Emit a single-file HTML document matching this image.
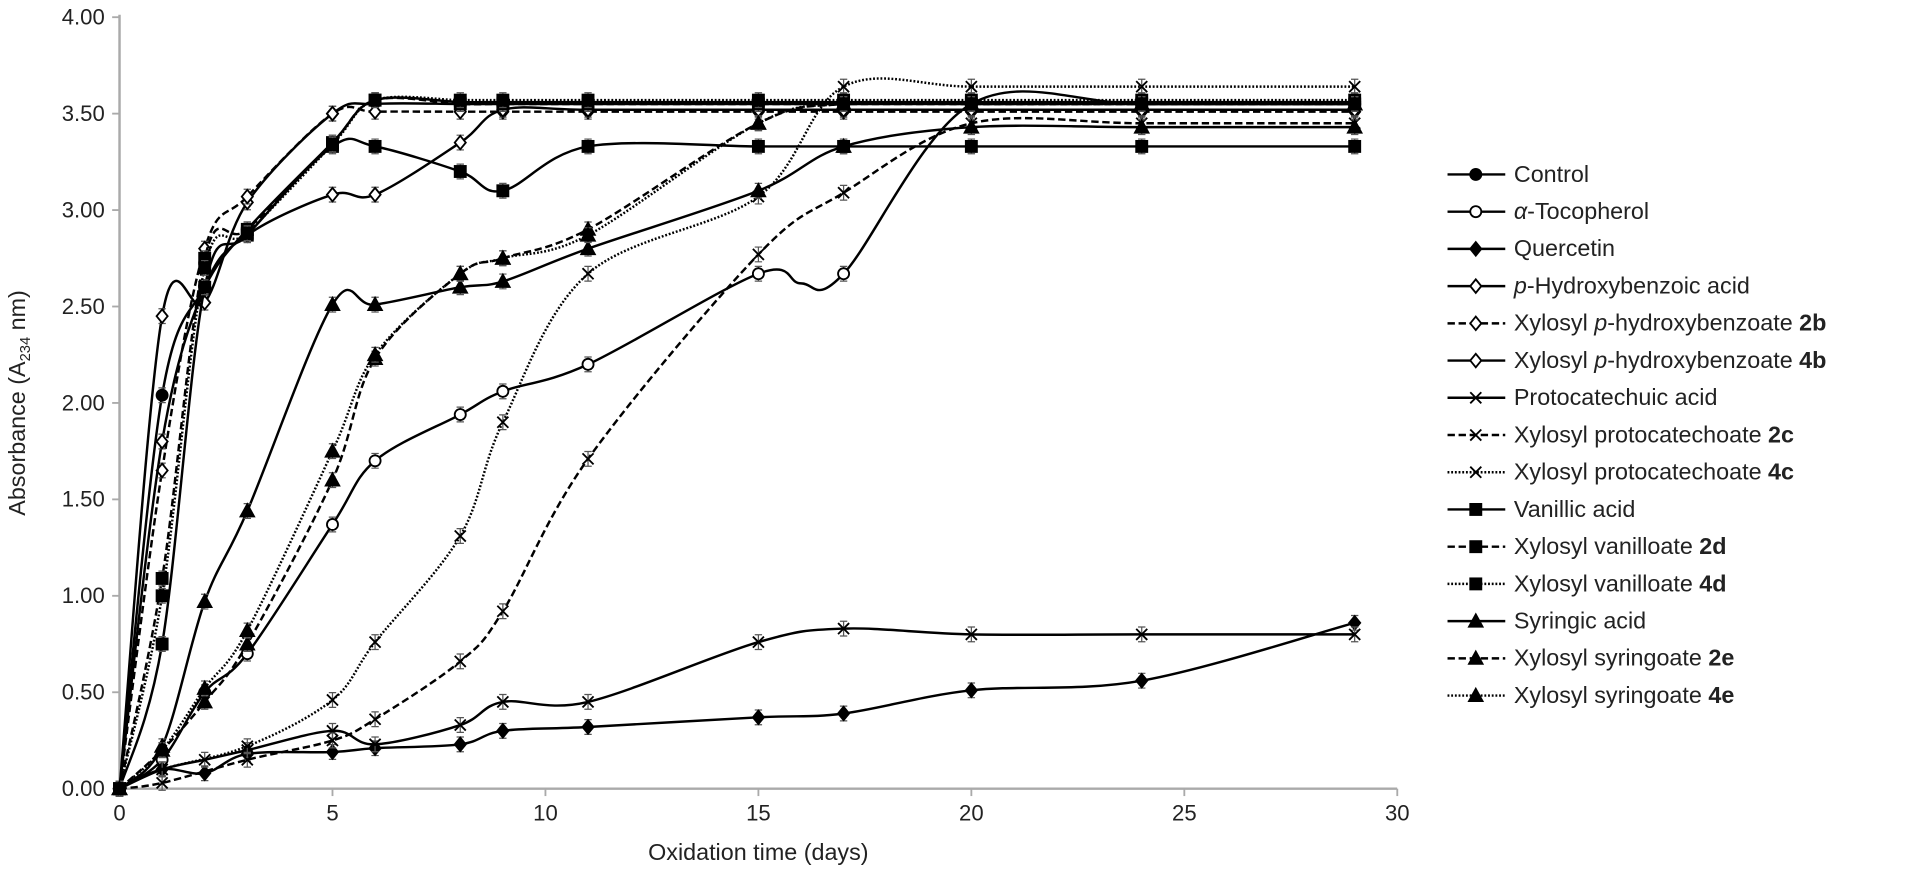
<!DOCTYPE html>
<html><head><meta charset="utf-8"><style>
html,body{margin:0;padding:0;background:#fff;}
svg{display:block;font-family:"Liberation Sans",sans-serif;}
</style></head><body>
<svg id="s" width="1927" height="871" viewBox="0 0 1568 709" xmlns="http://www.w3.org/2000/svg">
<g id="axes" stroke="#aaa" stroke-width="2" fill="none">
<line x1="97" y1="12" x2="97" y2="642"/>
<line x1="97" y1="642" x2="1137" y2="642"/>
</g>
<g id="ticks" stroke="#aaa" stroke-width="1.5"></g>
<g id="lbl" font-size="18" fill="#222"></g>
<text x="617" y="700" font-size="19" text-anchor="middle" fill="#222">Oxidation time (days)</text>
<text transform="translate(20,328) rotate(-90)" font-size="19" text-anchor="middle" fill="#222">Absorbance (A<tspan font-size="12" dy="4">234</tspan><tspan dy="-4"> nm)</tspan></text>
<g id="series"></g>
<g id="legend" font-size="19" fill="#222"></g>
</svg>
<script>
var NS="http://www.w3.org/2000/svg";
function X(d){return 97+d*34.67;}
function Y(v){return 642-v*157;}
function el(t,a,p,txt){var e=document.createElementNS(NS,t);for(var k in a)e.setAttribute(k,a[k]);if(txt!=null)e.textContent=txt;p.appendChild(e);return e;}
var tk=document.getElementById('ticks'),lb=document.getElementById('lbl');
for(var i=0;i<=8;i++){var v=i*0.5;el('line',{x1:91,x2:97,y1:Y(v),y2:Y(v)},tk);el('text',{x:85,y:Y(v)+6,'text-anchor':'end'},lb,v.toFixed(2));}
for(var d=0;d<=30;d+=5){el('line',{x1:X(d),x2:X(d),y1:642,y2:648},tk);el('text',{x:X(d),y:668,'text-anchor':'middle'},lb,String(d));}
var S=[
["Control","s","fc",[[0,0],[1,2.04],[2,2.6],[3,2.9],[5,3.35],[6,3.57],[8,3.56],[9,3.56],[11,3.56],[15,3.56],[17,3.56],[20,3.56],[24,3.56],[29,3.56]]],
["\u03b1-Tocopherol","s","oc",[[0,0],[1,0.15],[2,0.5],[3,0.7],[5,1.37],[6,1.7],[8,1.94],[9,2.06],[11,2.2],[15,2.67],[16,2.62],[17,2.67],[20,3.55],[24,3.55],[29,3.55]]],
["Quercetin","s","fd",[[0,0],[1,0.1],[2,0.08],[3,0.18],[5,0.19],[6,0.21],[8,0.23],[9,0.3],[11,0.32],[15,0.37],[17,0.39],[20,0.51],[24,0.56],[29,0.86]]],
["p-Hydroxybenzoic acid","s","od",[[0,0],[1,2.45],[2,2.52],[3,3.04],[5,3.5],[6,3.55],[8,3.55],[9,3.55],[11,3.55],[15,3.55],[17,3.55],[20,3.55],[24,3.55],[29,3.55]]],
["2b","d","od",[[0,0],[1,1.65],[2,2.8],[3,3.07],[5,3.5],[6,3.51],[8,3.51],[9,3.51],[11,3.51],[15,3.51],[17,3.51],[20,3.51],[24,3.51],[29,3.51]]],
["4b","s","od",[[0,0],[1,1.8],[2,2.6],[3,2.87],[5,3.08],[6,3.08],[8,3.35],[9,3.52],[11,3.52],[15,3.52],[17,3.52],[20,3.52],[24,3.52],[29,3.52]]],
["Protocatechuic acid","s","x",[[0,0],[1,0.1],[2,0.15],[3,0.2],[5,0.3],[6,0.23],[8,0.33],[9,0.45],[11,0.45],[15,0.76],[17,0.83],[20,0.8],[24,0.8],[29,0.8]]],
["2c","d","x",[[0,0],[1,0.03],[3,0.15],[5,0.25],[6,0.36],[8,0.66],[9,0.92],[11,1.71],[15,2.77],[17,3.09],[20,3.45],[24,3.45],[29,3.45]]],
["4c","t","x",[[0,0],[1,0.1],[3,0.22],[5,0.46],[6,0.76],[8,1.31],[9,1.9],[11,2.67],[15,3.07],[17,3.64],[20,3.64],[24,3.64],[29,3.64]]],
["Vanillic acid","s","fs",[[0,0],[1,0.75],[2,2.6],[3,2.87],[5,3.33],[6,3.33],[8,3.2],[9,3.1],[11,3.33],[15,3.33],[17,3.33],[20,3.33],[24,3.33],[29,3.33]]],
["2d","d","fs",[[0,0],[1,1.09],[2,2.75],[3,2.9],[5,3.35],[6,3.57],[8,3.55],[9,3.55],[11,3.55],[15,3.55],[17,3.55],[20,3.55],[24,3.55],[29,3.55]]],
["4d","t","fs",[[0,0],[1,1.0],[2,2.7],[3,2.88],[5,3.34],[6,3.57],[8,3.57],[9,3.57],[11,3.57],[15,3.57],[17,3.57],[20,3.57],[24,3.57],[29,3.57]]],
["Syringic acid","s","ft",[[0,0],[1,0.22],[2,0.97],[3,1.44],[5,2.51],[6,2.51],[8,2.6],[9,2.63],[11,2.8],[15,3.1],[17,3.33],[20,3.43],[24,3.43],[29,3.43]]],
["2e","d","ft",[[0,0],[1,0.2],[2,0.45],[3,0.75],[5,1.6],[6,2.23],[8,2.67],[9,2.75],[11,2.9],[15,3.45],[17,3.55],[20,3.55],[24,3.55],[29,3.55]]],
["4e","t","ft",[[0,0],[1,0.2],[2,0.52],[3,0.82],[5,1.75],[6,2.25],[8,2.67],[9,2.75],[11,2.87],[15,3.45],[17,3.55],[20,3.55],[24,3.55],[29,3.55]]]
];
var dash={s:"",d:"6,3",t:"1.5,1.5"};
function path(pts){var p=pts.map(function(q){return[X(q[0]),Y(q[1])];});var d="M"+p[0][0]+","+p[0][1];
for(var i=0;i<p.length-1;i++){var p0=p[i-1]||p[i],p1=p[i],p2=p[i+1],p3=p[i+2]||p2;
var c1=[p1[0]+(p2[0]-p0[0])/6,p1[1]+(p2[1]-p0[1])/6],c2=[p2[0]-(p3[0]-p1[0])/6,p2[1]-(p3[1]-p1[1])/6];
d+=" C"+c1+" "+c2+" "+p2;}return d;}
function marker(g,m,x,y){var r=4.5;var fill=m[0]=='f'?'#000':'#fff';var a={stroke:'#000','stroke-width':1.5,fill:fill};
var t=m.length>1?m[1]:'x';
if(t=='c'){a.cx=x;a.cy=y;a.r=r;el('circle',a,g);}
else if(t=='s'){a.x=x-r;a.y=y-r;a.width=2*r;a.height=2*r;el('rect',a,g);}
else if(t=='d'){a.points=[x,y-r-1,x+r,y,x,y+r+1,x-r,y].join(' ');el('polygon',a,g);}
else if(t=='t'){a.points=[x,y-r-1,x+r+1,y+r,x-r-1,y+r].join(' ');el('polygon',a,g);}
else{el('path',{d:"M"+(x-r)+","+(y-r)+"L"+(x+r)+","+(y+r)+"M"+(x-r)+","+(y+r)+"L"+(x+r)+","+(y-r),stroke:'#000','stroke-width':1.5},g);}}
var sg=document.getElementById('series'),lg=document.getElementById('legend');
var names={"2b":["Xylosyl ","p","-hydroxybenzoate ","2b"],"4b":["Xylosyl ","p","-hydroxybenzoate ","4b"],"2c":["Xylosyl protocatechoate ","","","2c"],"4c":["Xylosyl protocatechoate ","","","4c"],"2d":["Xylosyl vanilloate ","","","2d"],"4d":["Xylosyl vanilloate ","","","4d"],"2e":["Xylosyl syringoate ","","","2e"],"4e":["Xylosyl syringoate ","","","4e"]};
S.forEach(function(s,i){
var g=el('g',{},sg);
el('path',{d:path(s[3]),fill:'none',stroke:'#000','stroke-width':2,'stroke-dasharray':dash[s[1]]},g);
s[3].forEach(function(q){if(q[0]==16)return;var x=X(q[0]),y=Y(q[1]);
el('path',{d:"M"+(x-3)+","+(y-6)+"h6M"+x+","+(y-6)+"v12M"+(x-3)+","+(y+6)+"h6",stroke:'#555','stroke-width':1,fill:'none'},g);
marker(g,s[2],x,y);});
var ly=142+i*30.3;
el('line',{x1:1178,x2:1225,y1:ly,y2:ly,stroke:'#000','stroke-width':2,'stroke-dasharray':dash[s[1]]},lg);
marker(lg,s[2],1201,ly);
var t=el('text',{x:1232,y:ly+6},lg);
var n=names[s[0]];
if(n){el('tspan',{},t,n[0]);if(n[1])el('tspan',{'font-style':'italic'},t,n[1]);if(n[2])el('tspan',{},t,n[2]);el('tspan',{'font-weight':'bold'},t,n[3]);}
else if(s[0].indexOf("p-")==0){el('tspan',{'font-style':'italic'},t,"p");el('tspan',{},t,s[0].slice(1));}
else if(s[0][0]=="\u03b1"){el('tspan',{'font-style':'italic'},t,"\u03b1");el('tspan',{},t,s[0].slice(1));}
else t.textContent=s[0];
});
</script>
</body></html>
